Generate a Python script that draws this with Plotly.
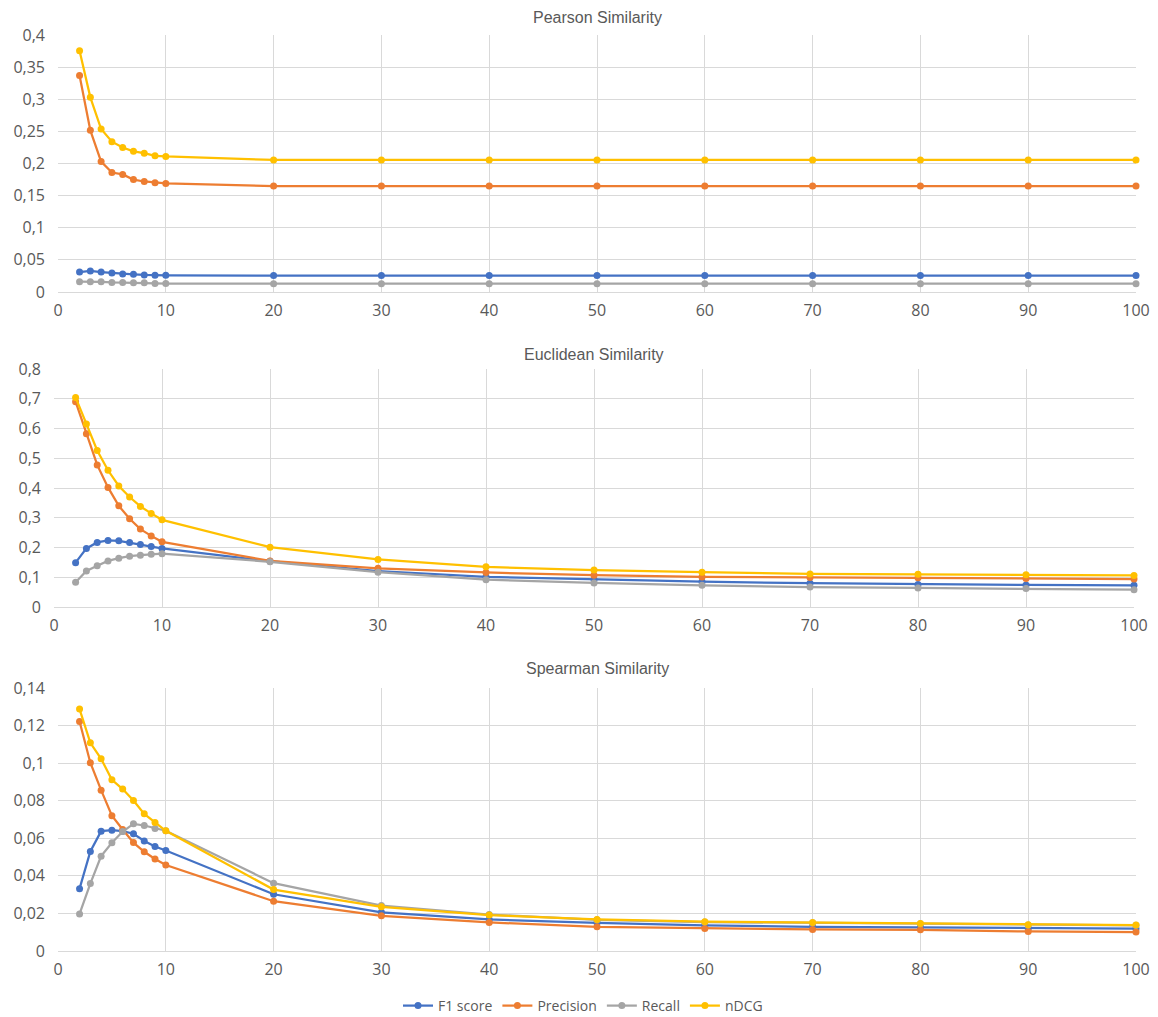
import plotly.graph_objects as go

k_values = [2, 3, 4, 5, 6, 7, 8, 9, 10, 20, 30, 40, 50, 60, 70, 80, 90, 100]
series_names = ["F1 score", "Precision", "Recall", "nDCG"]
series_colors = ["#4472C4", "#ED7D31", "#A5A5A5", "#FFC000"]

# Pearson similarity
pearson_f1 = [0.031, 0.0327, 0.031, 0.0296, 0.028, 0.0275, 0.0265, 0.0262, 0.026,
              0.0255, 0.0255, 0.0255, 0.0255, 0.0255, 0.0255, 0.0255, 0.0255, 0.0255]
pearson_precision = [0.337, 0.2516, 0.203, 0.186, 0.183, 0.175, 0.172, 0.170, 0.169,
                     0.1648, 0.1648, 0.1648, 0.1648, 0.1648, 0.1648, 0.1648, 0.1648, 0.1648]
pearson_recall = [0.016, 0.016, 0.0158, 0.0148, 0.0146, 0.0145, 0.0144, 0.0133, 0.0132,
                  0.013, 0.013, 0.013, 0.013, 0.013, 0.013, 0.013, 0.013, 0.013]
pearson_ndcg = [0.3756, 0.303, 0.2537, 0.234, 0.225, 0.219, 0.216, 0.212, 0.211,
                0.2055, 0.2055, 0.2055, 0.2055, 0.2055, 0.2055, 0.2055, 0.2055, 0.2055]

# Euclidean similarity
euclid_f1 = [0.149, 0.197, 0.217, 0.2236, 0.2225, 0.217, 0.210, 0.203, 0.197,
             0.154, 0.121, 0.101, 0.092, 0.085, 0.080, 0.076, 0.074, 0.073]
euclid_precision = [0.69, 0.582, 0.4775, 0.402, 0.340, 0.2966, 0.2618, 0.239, 0.219,
                    0.155, 0.130, 0.116, 0.107, 0.101, 0.099, 0.098, 0.0955, 0.094]
euclid_recall = [0.083, 0.121, 0.139, 0.155, 0.164, 0.171, 0.174, 0.1775, 0.179,
                 0.152, 0.117, 0.092, 0.081, 0.073, 0.067, 0.064, 0.062, 0.058]
euclid_ndcg = [0.7045, 0.615, 0.526, 0.4596, 0.4067, 0.3697, 0.338, 0.3146, 0.293,
               0.201, 0.160, 0.135, 0.124, 0.117, 0.111, 0.110, 0.108, 0.106]

# Spearman similarity
spear_f1 = [0.0332, 0.053, 0.0638, 0.0643, 0.0638, 0.0624, 0.0586, 0.0556, 0.0535,
            0.0302, 0.0206, 0.0168, 0.015, 0.0136, 0.0129, 0.0126, 0.012, 0.0119]
spear_precision = [0.1222, 0.1002, 0.0856, 0.072, 0.0647, 0.0577, 0.0528, 0.049, 0.0458,
                   0.0265, 0.0187, 0.0152, 0.0129, 0.012, 0.0115, 0.0113, 0.0104, 0.0101]
spear_recall = [0.0197, 0.0359, 0.0505, 0.0576, 0.0636, 0.0677, 0.0668, 0.0652, 0.064,
                0.0361, 0.0242, 0.0194, 0.0166, 0.0154, 0.015, 0.0145, 0.0139, 0.0137]
spear_ndcg = [0.1288, 0.1108, 0.1023, 0.0911, 0.0862, 0.0801, 0.073, 0.0684, 0.064,
              0.0327, 0.0235, 0.0191, 0.0168, 0.0156, 0.0152, 0.0147, 0.014, 0.0138]

panel_titles = ["Pearson Similarity", "Euclidean Similarity", "Spearman Similarity"]

x_tickvals = [0, 10, 20, 30, 40, 50, 60, 70, 80, 90, 100]
x_ticktext = ["0", "10", "20", "30", "40", "50", "60", "70", "80", "90", "100"]

y1_tickvals = [0, 0.05, 0.1, 0.15, 0.2, 0.25, 0.3, 0.35, 0.4]
y1_ticktext = ["0", "0,05", "0,1", "0,15", "0,2", "0,25", "0,3", "0,35", "0,4"]
y2_tickvals = [0, 0.1, 0.2, 0.3, 0.4, 0.5, 0.6, 0.7, 0.8]
y2_ticktext = ["0", "0,1", "0,2", "0,3", "0,4", "0,5", "0,6", "0,7", "0,8"]
y3_tickvals = [0, 0.02, 0.04, 0.06, 0.08, 0.1, 0.12, 0.14]
y3_ticktext = ["0", "0,02", "0,04", "0,06", "0,08", "0,1", "0,12", "0,14"]

panels = [
    [pearson_f1, pearson_precision, pearson_recall, pearson_ndcg],
    [euclid_f1, euclid_precision, euclid_recall, euclid_ndcg],
    [spear_f1, spear_precision, spear_recall, spear_ndcg],
]

OFF = 8  # page body margin
W, H = 1158 - OFF, 1017 - OFF
# plot area pixel boxes in page coords (left, right, top, bottom)
boxes = [(58, 1136, 35, 292), (54, 1134, 369, 607), (58, 1136, 688, 951)]
title_y = [18, 354, 668]
legend_y = 1006
yticks = [(y1_tickvals, y1_ticktext), (y2_tickvals, y2_ticktext), (y3_tickvals, y3_ticktext)]

fig = go.Figure()
grid = "#D9D9D9"
txt = "#595959"
tick_font = dict(family="Open Sans, Noto Sans, sans-serif", size=16, color=txt)

for p, data in enumerate(panels):
    xa = "x" if p == 0 else f"x{p+1}"
    ya = "y" if p == 0 else f"y{p+1}"
    for s, vals in enumerate(data):
        fig.add_trace(go.Scatter(
            x=k_values, y=vals, mode="lines+markers",
            name=series_names[s],
            line=dict(color=series_colors[s], width=2.25),
            marker=dict(color=series_colors[s], size=7),
            xaxis=xa, yaxis=ya, cliponaxis=False,
            showlegend=(p == 0),
        ))
    l, r, t, b = [v - OFF for v in boxes[p]]
    tv, tt = yticks[p]
    xkey = "xaxis" if p == 0 else f"xaxis{p+1}"
    ykey = "yaxis" if p == 0 else f"yaxis{p+1}"
    fig.update_layout(**{
        xkey: dict(domain=[l / W, r / W], anchor=ya, range=[0, 100],
                   tickvals=x_tickvals, ticktext=x_ticktext,
                   showgrid=True, gridcolor=grid, gridwidth=1,
                   zeroline=False, showline=True, linecolor=grid, linewidth=1,
                   ticks="", tickfont=tick_font, ticklabelstandoff=4, fixedrange=True),
        ykey: dict(domain=[1 - b / H, 1 - t / H], anchor=xa, range=[0, tv[-1]],
                   tickvals=tv, ticktext=tt,
                   showgrid=True, gridcolor=grid, gridwidth=1,
                   zeroline=False, showline=False,
                   ticks="", tickfont=tick_font, ticklabelstandoff=12, fixedrange=True),
    })
    fig.add_annotation(
        text=panel_titles[p], xref="paper", yref="paper",
        x=(l + r) / 2 / W, y=1 - (title_y[p] - OFF) / H, xanchor="center", yanchor="middle",
        showarrow=False,
        font=dict(family="Liberation Sans, Arial, sans-serif", size=16, color=txt),
    )

fig.update_layout(
    width=W, height=H,
    margin=dict(l=0, r=0, t=0, b=0, pad=0, autoexpand=False),
    paper_bgcolor="white", plot_bgcolor="white",
    legend=dict(orientation="h", x=0.5, xanchor="center", y=1 - (legend_y - OFF) / H,
                yanchor="middle",
                font=dict(family="Open Sans, Noto Sans, sans-serif", size=14, color=txt),
                tracegroupgap=0),
    showlegend=True,
)

fig.write_html("out.html")
